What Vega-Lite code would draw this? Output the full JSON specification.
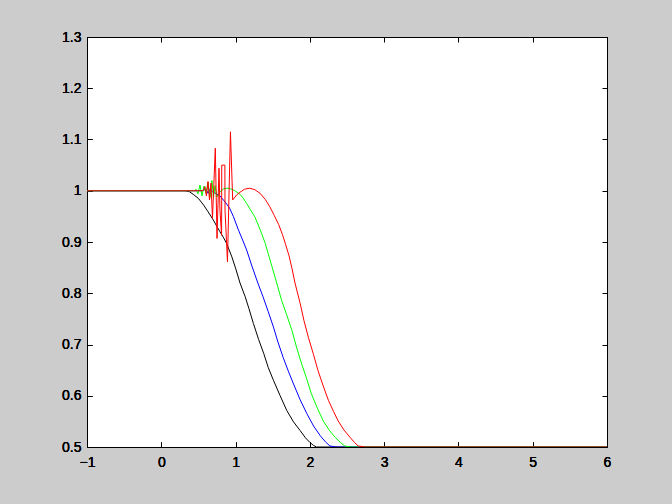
{
  "$schema": "https://vega.github.io/schema/vega-lite/v6.json",
  "width": 520,
  "height": 410,
  "autosize": {"type": "none"},
  "padding": {"left": 87, "top": 37, "right": 65, "bottom": 57},
  "background": "#cccccc",
  "config": {
    "view": {"stroke": "black", "strokeWidth": 1, "fill": "white"},
    "axis": {
      "domainColor": "black", "tickColor": "black", "labelColor": "black",
      "labelFont": "Liberation Sans", "labelFontSize": 14, "labelFontWeight": "normal", "grid": false,
      "tickSize": -5, "labelPadding": 12, "domainWidth": 1, "tickWidth": 1,
      "labelFlush": false, "labelOverlap": false
    }
  },
  "data": {"values": [
    {"s": "black", "x": -1, "y": 1}, {"s": "black", "x": 0.32, "y": 1.0}, {"s": "black", "x": 0.38, "y": 0.998},
    {"s": "black", "x": 0.43, "y": 0.993}, {"s": "black", "x": 0.5, "y": 0.985}, {"s": "black", "x": 0.57, "y": 0.972},
    {"s": "black", "x": 0.63, "y": 0.959}, {"s": "black", "x": 0.7, "y": 0.943}, {"s": "black", "x": 0.75, "y": 0.93},
    {"s": "black", "x": 0.79, "y": 0.92}, {"s": "black", "x": 0.84, "y": 0.908}, {"s": "black", "x": 0.88, "y": 0.897},
    {"s": "black", "x": 0.95, "y": 0.871}, {"s": "black", "x": 1.0, "y": 0.849}, {"s": "black", "x": 1.06, "y": 0.82},
    {"s": "black", "x": 1.13, "y": 0.793}, {"s": "black", "x": 1.18, "y": 0.77}, {"s": "black", "x": 1.24, "y": 0.741},
    {"s": "black", "x": 1.31, "y": 0.71}, {"s": "black", "x": 1.38, "y": 0.682}, {"s": "black", "x": 1.44, "y": 0.655},
    {"s": "black", "x": 1.51, "y": 0.63}, {"s": "black", "x": 1.6, "y": 0.6}, {"s": "black", "x": 1.69, "y": 0.571},
    {"s": "black", "x": 1.78, "y": 0.549}, {"s": "black", "x": 1.87, "y": 0.532}, {"s": "black", "x": 1.94, "y": 0.518},
    {"s": "black", "x": 2.0, "y": 0.509}, {"s": "black", "x": 2.05, "y": 0.503}, {"s": "black", "x": 2.09, "y": 0.5},
    {"s": "black", "x": 6, "y": 0.5},

    {"s": "blue", "x": -1, "y": 1}, {"s": "blue", "x": 0.55, "y": 1.0}, {"s": "blue", "x": 0.6, "y": 1.003},
    {"s": "blue", "x": 0.63, "y": 0.995}, {"s": "blue", "x": 0.66, "y": 1.004}, {"s": "blue", "x": 0.69, "y": 0.998},
    {"s": "blue", "x": 0.72, "y": 0.996}, {"s": "blue", "x": 0.79, "y": 0.99}, {"s": "blue", "x": 0.86, "y": 0.978},
    {"s": "blue", "x": 0.92, "y": 0.966}, {"s": "blue", "x": 0.97, "y": 0.95}, {"s": "blue", "x": 1.04, "y": 0.923},
    {"s": "blue", "x": 1.1, "y": 0.902}, {"s": "blue", "x": 1.15, "y": 0.884}, {"s": "blue", "x": 1.22, "y": 0.853},
    {"s": "blue", "x": 1.3, "y": 0.82}, {"s": "blue", "x": 1.37, "y": 0.793}, {"s": "blue", "x": 1.44, "y": 0.764},
    {"s": "blue", "x": 1.51, "y": 0.734}, {"s": "blue", "x": 1.57, "y": 0.705}, {"s": "blue", "x": 1.64, "y": 0.675},
    {"s": "blue", "x": 1.71, "y": 0.648}, {"s": "blue", "x": 1.78, "y": 0.623}, {"s": "blue", "x": 1.87, "y": 0.592},
    {"s": "blue", "x": 1.96, "y": 0.565}, {"s": "blue", "x": 2.05, "y": 0.541}, {"s": "blue", "x": 2.14, "y": 0.522},
    {"s": "blue", "x": 2.21, "y": 0.51}, {"s": "blue", "x": 2.27, "y": 0.502}, {"s": "blue", "x": 2.35, "y": 0.5},
    {"s": "blue", "x": 6, "y": 0.5},

    {"s": "green", "x": -1, "y": 1}, {"s": "green", "x": 0.45, "y": 1.0}, {"s": "green", "x": 0.467, "y": 1.003},
    {"s": "green", "x": 0.494, "y": 0.994}, {"s": "green", "x": 0.521, "y": 1.011}, {"s": "green", "x": 0.548, "y": 0.99},
    {"s": "green", "x": 0.575, "y": 1.009}, {"s": "green", "x": 0.602, "y": 0.995}, {"s": "green", "x": 0.629, "y": 1.017},
    {"s": "green", "x": 0.655, "y": 0.987}, {"s": "green", "x": 0.682, "y": 1.02}, {"s": "green", "x": 0.703, "y": 0.986},
    {"s": "green", "x": 0.723, "y": 1.01}, {"s": "green", "x": 0.75, "y": 0.988}, {"s": "green", "x": 0.79, "y": 0.998},
    {"s": "green", "x": 0.844, "y": 1.004}, {"s": "green", "x": 0.898, "y": 1.005}, {"s": "green", "x": 0.952, "y": 1.003},
    {"s": "green", "x": 1.0, "y": 0.999}, {"s": "green", "x": 1.06, "y": 0.993}, {"s": "green", "x": 1.1, "y": 0.986},
    {"s": "green", "x": 1.15, "y": 0.975}, {"s": "green", "x": 1.2, "y": 0.963}, {"s": "green", "x": 1.26, "y": 0.949},
    {"s": "green", "x": 1.3, "y": 0.935}, {"s": "green", "x": 1.35, "y": 0.917}, {"s": "green", "x": 1.4, "y": 0.897},
    {"s": "green", "x": 1.44, "y": 0.877}, {"s": "green", "x": 1.49, "y": 0.852}, {"s": "green", "x": 1.53, "y": 0.832},
    {"s": "green", "x": 1.62, "y": 0.786}, {"s": "green", "x": 1.69, "y": 0.757}, {"s": "green", "x": 1.76, "y": 0.727},
    {"s": "green", "x": 1.82, "y": 0.695}, {"s": "green", "x": 1.89, "y": 0.662}, {"s": "green", "x": 1.96, "y": 0.632},
    {"s": "green", "x": 2.02, "y": 0.604}, {"s": "green", "x": 2.1, "y": 0.576}, {"s": "green", "x": 2.18, "y": 0.551},
    {"s": "green", "x": 2.26, "y": 0.533}, {"s": "green", "x": 2.34, "y": 0.519}, {"s": "green", "x": 2.41, "y": 0.509},
    {"s": "green", "x": 2.47, "y": 0.502}, {"s": "green", "x": 2.55, "y": 0.5}, {"s": "green", "x": 6, "y": 0.5},

    {"s": "red", "x": -1, "y": 1}, {"s": "red", "x": 0.5, "y": 1.0}, {"s": "red", "x": 0.561, "y": 1.0},
    {"s": "red", "x": 0.588, "y": 1.008}, {"s": "red", "x": 0.608, "y": 0.99}, {"s": "red", "x": 0.629, "y": 1.018},
    {"s": "red", "x": 0.649, "y": 0.982}, {"s": "red", "x": 0.669, "y": 1.015}, {"s": "red", "x": 0.689, "y": 0.946},
    {"s": "red", "x": 0.727, "y": 1.083}, {"s": "red", "x": 0.75, "y": 0.907}, {"s": "red", "x": 0.777, "y": 1.044},
    {"s": "red", "x": 0.79, "y": 0.962}, {"s": "red", "x": 0.812, "y": 0.913}, {"s": "red", "x": 0.814, "y": 1.05},
    {"s": "red", "x": 0.856, "y": 1.05}, {"s": "red", "x": 0.858, "y": 0.962}, {"s": "red", "x": 0.891, "y": 0.861},
    {"s": "red", "x": 0.931, "y": 1.115}, {"s": "red", "x": 0.961, "y": 0.982}, {"s": "red", "x": 1.015, "y": 0.992},
    {"s": "red", "x": 1.06, "y": 0.997}, {"s": "red", "x": 1.12, "y": 1.003}, {"s": "red", "x": 1.19, "y": 1.005},
    {"s": "red", "x": 1.26, "y": 1.002}, {"s": "red", "x": 1.33, "y": 0.995}, {"s": "red", "x": 1.4, "y": 0.983},
    {"s": "red", "x": 1.46, "y": 0.969}, {"s": "red", "x": 1.52, "y": 0.952}, {"s": "red", "x": 1.58, "y": 0.934},
    {"s": "red", "x": 1.63, "y": 0.915}, {"s": "red", "x": 1.67, "y": 0.897}, {"s": "red", "x": 1.72, "y": 0.873},
    {"s": "red", "x": 1.76, "y": 0.848}, {"s": "red", "x": 1.8, "y": 0.82}, {"s": "red", "x": 1.87, "y": 0.78},
    {"s": "red", "x": 1.92, "y": 0.747}, {"s": "red", "x": 1.98, "y": 0.714}, {"s": "red", "x": 2.05, "y": 0.68},
    {"s": "red", "x": 2.11, "y": 0.649}, {"s": "red", "x": 2.18, "y": 0.619}, {"s": "red", "x": 2.25, "y": 0.591},
    {"s": "red", "x": 2.32, "y": 0.569}, {"s": "red", "x": 2.38, "y": 0.551}, {"s": "red", "x": 2.46, "y": 0.533},
    {"s": "red", "x": 2.54, "y": 0.519}, {"s": "red", "x": 2.6, "y": 0.509}, {"s": "red", "x": 2.65, "y": 0.502},
    {"s": "red", "x": 2.75, "y": 0.5}, {"s": "red", "x": 6, "y": 0.5}
  ]},
  "encoding": {
    "x": {"field": "x", "type": "quantitative", "scale": {"domain": [-1, 6], "nice": false, "zero": false},
      "axis": {"orient": "bottom", "title": null, "values": [-1, 0, 1, 2, 3, 4, 5, 6], "format": "~g", "labelPadding": 13}},
    "y": {"field": "y", "type": "quantitative", "scale": {"domain": [0.5, 1.3], "nice": false, "zero": false},
      "axis": {"orient": "left", "title": null, "values": [0.5, 0.6, 0.7, 0.8, 0.9, 1, 1.1, 1.2, 1.3], "format": "~g", "labelPadding": 11}}
  },
  "layer": [
    {"transform": [{"filter": "datum.s == 'black'"}], "mark": {"type": "line", "color": "#000000", "strokeWidth": 1, "clip": true}},
    {"transform": [{"filter": "datum.s == 'blue'"}], "mark": {"type": "line", "color": "#0000ff", "strokeWidth": 1, "clip": true}},
    {"transform": [{"filter": "datum.s == 'green'"}], "mark": {"type": "line", "color": "#00ff00", "strokeWidth": 1, "clip": true}},
    {"transform": [{"filter": "datum.s == 'red'"}], "mark": {"type": "line", "color": "#ff0000", "strokeWidth": 1, "clip": true},
      "encoding": {
        "x": {"field": "x", "type": "quantitative", "axis": {"orient": "top", "title": null, "values": [-1, 0, 1, 2, 3, 4, 5, 6], "labels": false}},
        "y": {"field": "y", "type": "quantitative", "axis": {"orient": "right", "title": null, "values": [0.5, 0.6, 0.7, 0.8, 0.9, 1, 1.1, 1.2, 1.3], "labels": false}}
      }}
  ]
}
